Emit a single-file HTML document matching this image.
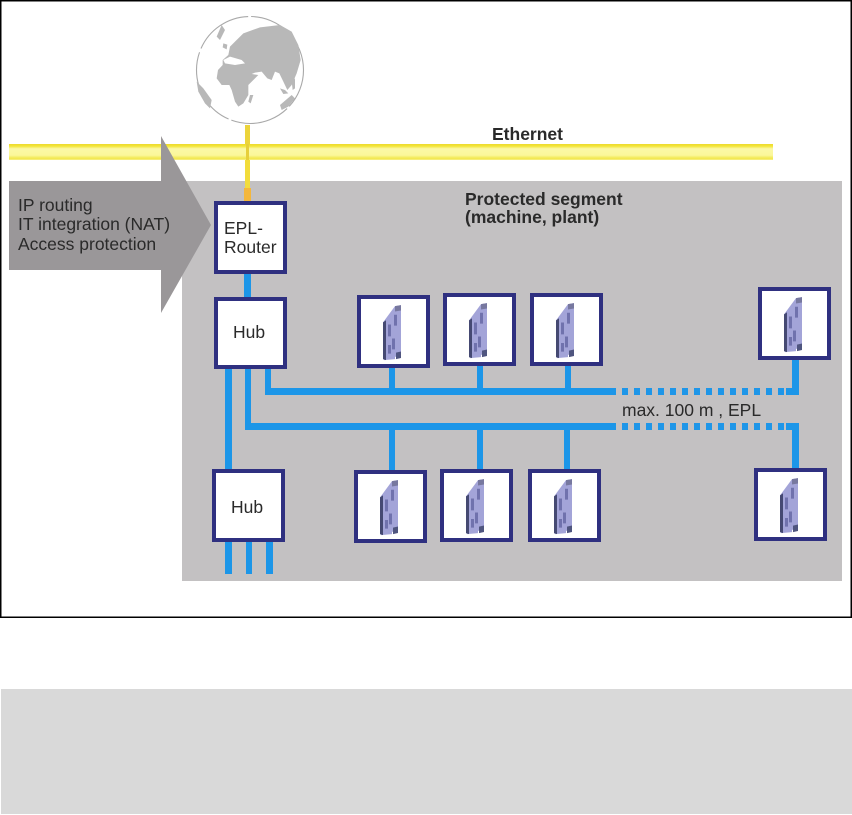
<!DOCTYPE html>
<html>
<head>
<meta charset="utf-8">
<style>
html,body{margin:0;padding:0;background:#fff;width:852px;height:815px;overflow:hidden}
svg{display:block}
text{font-family:"Liberation Sans",Arial,sans-serif;fill:#2a2a2a}
</style>
</head>
<body>
<svg width="852" height="815" viewBox="0 0 852 815" xmlns="http://www.w3.org/2000/svg">
<defs>
<filter id="t" x="-5%" y="-20%" width="110%" height="140%"><feGaussianBlur stdDeviation="0.3"/></filter>
<linearGradient id="eth" x1="0" y1="0" x2="0" y2="1">
<stop offset="0" stop-color="#ecd92c"/><stop offset=".14" stop-color="#f3e63c"/><stop offset=".3" stop-color="#fbf8a6"/><stop offset=".7" stop-color="#fbf79a"/><stop offset=".9" stop-color="#f2e74c"/><stop offset="1" stop-color="#f6f08c"/>
</linearGradient>
<g id="dev">
<rect x="2" y="2" width="69" height="69" fill="#fff" stroke="#2f3080" stroke-width="4"/>
<g transform="translate(26,9) scale(1,1.08)" filter="url(#t)">
<path d="M0 17 L12 2 L18 1 L18 48 L12 49 L12 51 L1 52 L0 50 Z" fill="#a3a4d8"/>
<path d="M0 17 L3 15 L3 52 L0 51 Z" fill="#454a72"/>
<path d="M12 2 L18 1 L18 6 L12 7 Z" fill="#77789f"/>
<path d="M5 19 L8 19 L8 30 L5 30 Z M9 32 L12 32 L12 42 L9 42 Z M5 38 L8 38 L8 46 L5 46 Z M11 10 L14 10 L14 20 L11 20 Z" fill="#6f72ad"/>
<path d="M13 45 L18 44 L18 50 L13 51 Z" fill="#50547f"/>
</g>
</g>
</defs>

<rect width="852" height="815" fill="#fff"/>
<rect x="0.75" y="0.75" width="850.5" height="616.5" fill="#fff" stroke="#000" stroke-width="1.5"/>
<rect x="1" y="689" width="851" height="125" fill="#d9d9d9"/>

<!-- protected segment -->
<rect x="182" y="181" width="660" height="400" fill="#c3c1c2"/>

<!-- Ethernet -->
<rect x="9" y="144" width="764" height="16" fill="url(#eth)" filter="url(#t)"/>

<!-- globe -->
<g filter="url(#t)">
<circle cx="250" cy="70" r="53.5" fill="#fff" stroke="#a9a9a9" stroke-width="1.1" stroke-dasharray="40 3 60 3 80 4 60 3"/>
<g transform="translate(180,10) scale(.33333)" fill="#b8b8b8">
<path d="M150 110 L165 95 L190 70 L240 52 L300 45 L335 65 L355 105 L362 150 L350 190 L335 225 L322 240 L310 215 L298 190 L285 185 L275 210 L262 205 L245 185 L225 188 L215 192 L235 195 L205 225 L205 255 L190 280 L175 290 L165 275 L155 240 L148 225 L125 225 L110 205 L114 180 L128 165 L128 150 L145 135 Z"/>
<path fill="#fff" d="M130 150 L150 140 L185 150 L195 160 L165 165 L135 160 Z"/>
<path d="M50 215 L70 235 L95 270 L90 295 L75 280 L55 245 Z"/>
<path d="M300 285 L335 255 L345 265 L325 290 L305 300 Z"/>
<path d="M210 255 L220 255 L212 280 L205 275 Z"/>
<path d="M125 45 L135 60 L120 90 L110 80 Z"/>
<path d="M130 100 L142 104 L140 118 L128 112 Z"/>
<path d="M300 235 L315 240 L325 250 L310 252 Z"/>
<path d="M335 215 L345 205 L345 235 L338 240 Z"/>
</g>
</g>

<!-- yellow/orange uplink -->
<rect x="245" y="125" width="5" height="19" fill="#ecd43a" filter="url(#t)"/>
<rect x="246" y="144" width="3" height="16" fill="#e7cf3a"/>
<rect x="245" y="160" width="5" height="28" fill="#f2dc3a" filter="url(#t)"/>
<rect x="244" y="188" width="7" height="14" fill="#f4b73a" filter="url(#t)"/>

<!-- big arrow -->
<polygon points="9,181 161,181 161,136 211,225 161,313 161,270 9,270" fill="#9a9799" filter="url(#t)"/>

<!-- connectors -->
<g fill="#1e96e8" filter="url(#t)">
<rect x="244" y="273" width="7" height="25"/>
<rect x="225" y="368" width="7" height="103"/>
<rect x="245" y="368" width="6" height="62"/>
<rect x="265" y="368" width="6" height="27"/>
<rect x="265" y="388" width="351" height="7"/>
<rect x="245" y="423" width="371" height="7"/>
<rect x="389" y="367" width="6" height="24"/>
<rect x="477" y="365" width="6" height="26"/>
<rect x="565" y="365" width="6" height="26"/>
<rect x="389" y="426" width="6" height="46"/>
<rect x="477" y="426" width="6" height="46"/>
<rect x="564" y="426" width="6" height="46"/>
<rect x="792" y="359" width="7" height="36"/>
<rect x="786" y="388" width="13" height="7"/>
<rect x="786" y="423" width="13" height="7"/>
<rect x="792" y="423" width="7" height="48"/>
<rect x="225" y="541" width="7" height="33"/>
<rect x="246" y="541" width="6" height="33"/>
<rect x="266" y="541" width="7" height="33"/>
</g>
<g stroke="#1e96e8" stroke-width="7" stroke-dasharray="6 6" fill="none">
<path d="M622 391.5 H786"/>
<path d="M622 426.5 H786"/>
</g>

<!-- router and hubs -->
<g fill="#fff" stroke="#2f3080" stroke-width="4">
<rect x="216" y="203" width="69" height="69"/>
<rect x="216" y="299" width="69" height="68"/>
<rect x="214" y="471" width="69" height="69"/>
</g>

<!-- devices -->
<use href="#dev" x="357" y="295"/>
<use href="#dev" x="443" y="293"/>
<use href="#dev" x="530" y="293"/>
<use href="#dev" x="758" y="287"/>
<use href="#dev" x="354" y="470"/>
<use href="#dev" x="440" y="469"/>
<use href="#dev" x="528" y="469"/>
<use href="#dev" x="754" y="468"/>

<!-- text -->
<g filter="url(#t)" font-size="17.5">
<text x="492" y="140" font-weight="bold">Ethernet</text>
<text x="465" y="205" font-weight="bold">Protected segment</text>
<text x="465" y="223" font-weight="bold">(machine, plant)</text>
<text x="18" y="211">IP routing</text>
<text x="18" y="230">IT integration (NAT)</text>
<text x="18" y="250">Access protection</text>
<text x="224" y="234">EPL-</text>
<text x="224" y="253">Router</text>
<text x="233" y="338">Hub</text>
<text x="231" y="513">Hub</text>
<text x="622" y="416">max. 100 m , EPL</text>
</g>
</svg>
</body>
</html>
